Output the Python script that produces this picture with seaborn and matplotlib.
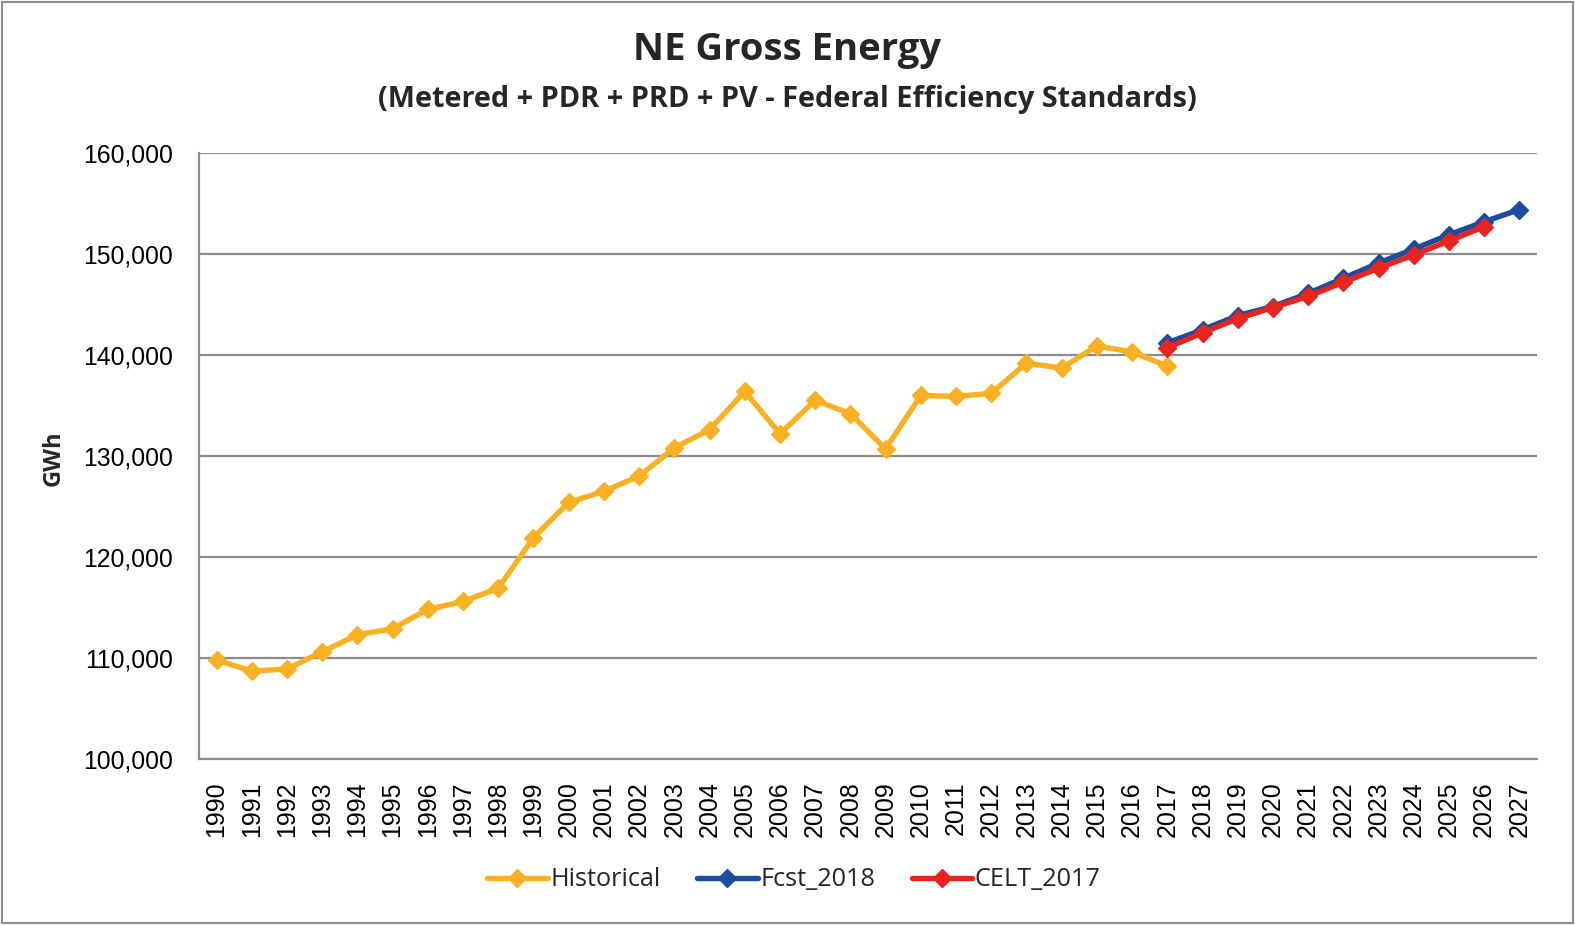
import matplotlib
matplotlib.use("Agg")
import matplotlib.pyplot as plt
import seaborn as sns
import pandas as pd
import numpy as np
from matplotlib.ticker import FuncFormatter, FixedLocator, NullFormatter
from matplotlib.lines import Line2D
from matplotlib.patches import Rectangle

years = list(range(1990, 2028))

hist_years = list(range(1990, 2018))
historical = [109800, 108700, 108900, 110600, 112300, 112900, 114800, 115600, 116900, 121900,
              125400, 126500, 128000, 130800, 132600, 136400, 132200, 135500, 134200, 130700,
              136000, 135900, 136200, 139200, 138700, 140900, 140300, 138900]

fcst_years = list(range(2017, 2028))
fcst_2018 = [141200, 142500, 143900, 144800, 146100, 147600, 149100, 150500, 151900, 153200, 154400]

celt_years = list(range(2017, 2027))
celt_2017 = [140700, 142200, 143600, 144700, 145800, 147200, 148600, 149900, 151300, 152700]

series_names = ["Historical", "Fcst_2018", "CELT_2017"]
colors = {"Historical": "#F9B022", "Fcst_2018": "#1C4C9E", "CELT_2017": "#E8241E"}

frames = []
for name, yrs, vals in [("Historical", hist_years, historical),
                        ("Fcst_2018", fcst_years, fcst_2018),
                        ("CELT_2017", celt_years, celt_2017)]:
    frames.append(pd.DataFrame({"pos": [years.index(y) for y in yrs], "GWh": vals, "series": name}))
df = pd.concat(frames, ignore_index=True)

sns.set_theme(style="white")
plt.rcParams["font.family"] = ["Liberation Sans", "DejaVu Sans"]

fig = plt.figure(figsize=(15.75, 9.25), dpi=100)
ax = fig.add_axes([0.1263, 0.1795, 0.8496, 0.6551])

for name in series_names:
    sub = df[df["series"] == name]
    sns.lineplot(data=sub, x="pos", y="GWh", ax=ax, color=colors[name], linewidth=3.9,
                 marker="D", markersize=9, markeredgecolor=colors[name], markeredgewidth=1,
                 legend=False, zorder=3 if name != "CELT_2017" else 4)

ax.set_xlim(-0.5, len(years) - 0.5)
ax.set_ylim(100000, 160000)
ax.set_yticks(np.arange(100000, 160001, 10000))
ax.yaxis.set_major_formatter(FuncFormatter(lambda v, p: f"{int(v):,}"))
ax.grid(axis="y", color="#8C8C8C", linewidth=1.6, zorder=0)
ax.grid(axis="x", visible=False)
ax.set_axisbelow(True)

ax.set_xticks(np.arange(len(years)))
ax.set_xticklabels([str(y) for y in years], rotation=90, fontsize=18)
ax.xaxis.set_minor_locator(FixedLocator(np.arange(-0.5, len(years), 1)))
ax.xaxis.set_minor_formatter(NullFormatter())
ax.tick_params(axis="x", which="major", length=0, pad=16)
ax.tick_params(axis="x", which="minor", length=8, width=1.5, color="#8C8C8C", direction="out")
ax.tick_params(axis="y", which="major", length=8, width=1.5, color="#8C8C8C", direction="out",
               labelsize=17.8, pad=11)
ax.tick_params(axis="both", labelcolor="#000000")

for s in ["top", "right"]:
    ax.spines[s].set_visible(False)
for s in ["left", "bottom"]:
    ax.spines[s].set_color("#8C8C8C")
    ax.spines[s].set_linewidth(1.6)

ax.set_xlabel("")
ax.set_ylabel("")
fig.text(54 / 1575, 1 - 458 / 925, "GWh", rotation=90, ha="center", va="center", fontsize=17,
         fontweight="bold", family=["Open Sans", "DejaVu Sans"])

fig.text(0.5, 1 - 50 / 925, "NE Gross Energy", ha="center", va="center", fontsize=27.5,
         fontweight="bold", family=["Open Sans", "DejaVu Sans"])
fig.text(0.5, 1 - 99 / 925, "(Metered + PDR + PRD + PV - Federal Efficiency Standards)", ha="center",
         va="center", fontsize=20.8, fontweight="bold", family=["Open Sans", "DejaVu Sans"])

handles = [Line2D([0], [0], color=colors[n], linewidth=3.9, marker="D", markersize=9) for n in series_names]
leg = fig.legend(handles, series_names, loc="center", bbox_to_anchor=(0.504, 1 - 880 / 925), ncol=3,
                 frameon=False, handlelength=2.4, handletextpad=0.1, columnspacing=1.45,
                 prop={"family": ["Open Sans", "DejaVu Sans"], "size": 18.2})

fig.patches.append(Rectangle((0.0015, 0.002), 0.997, 0.996, transform=fig.transFigure,
                             fill=False, edgecolor="#8C8C8C", linewidth=1.5))

fig.savefig("out.png", dpi=100, facecolor="white")
